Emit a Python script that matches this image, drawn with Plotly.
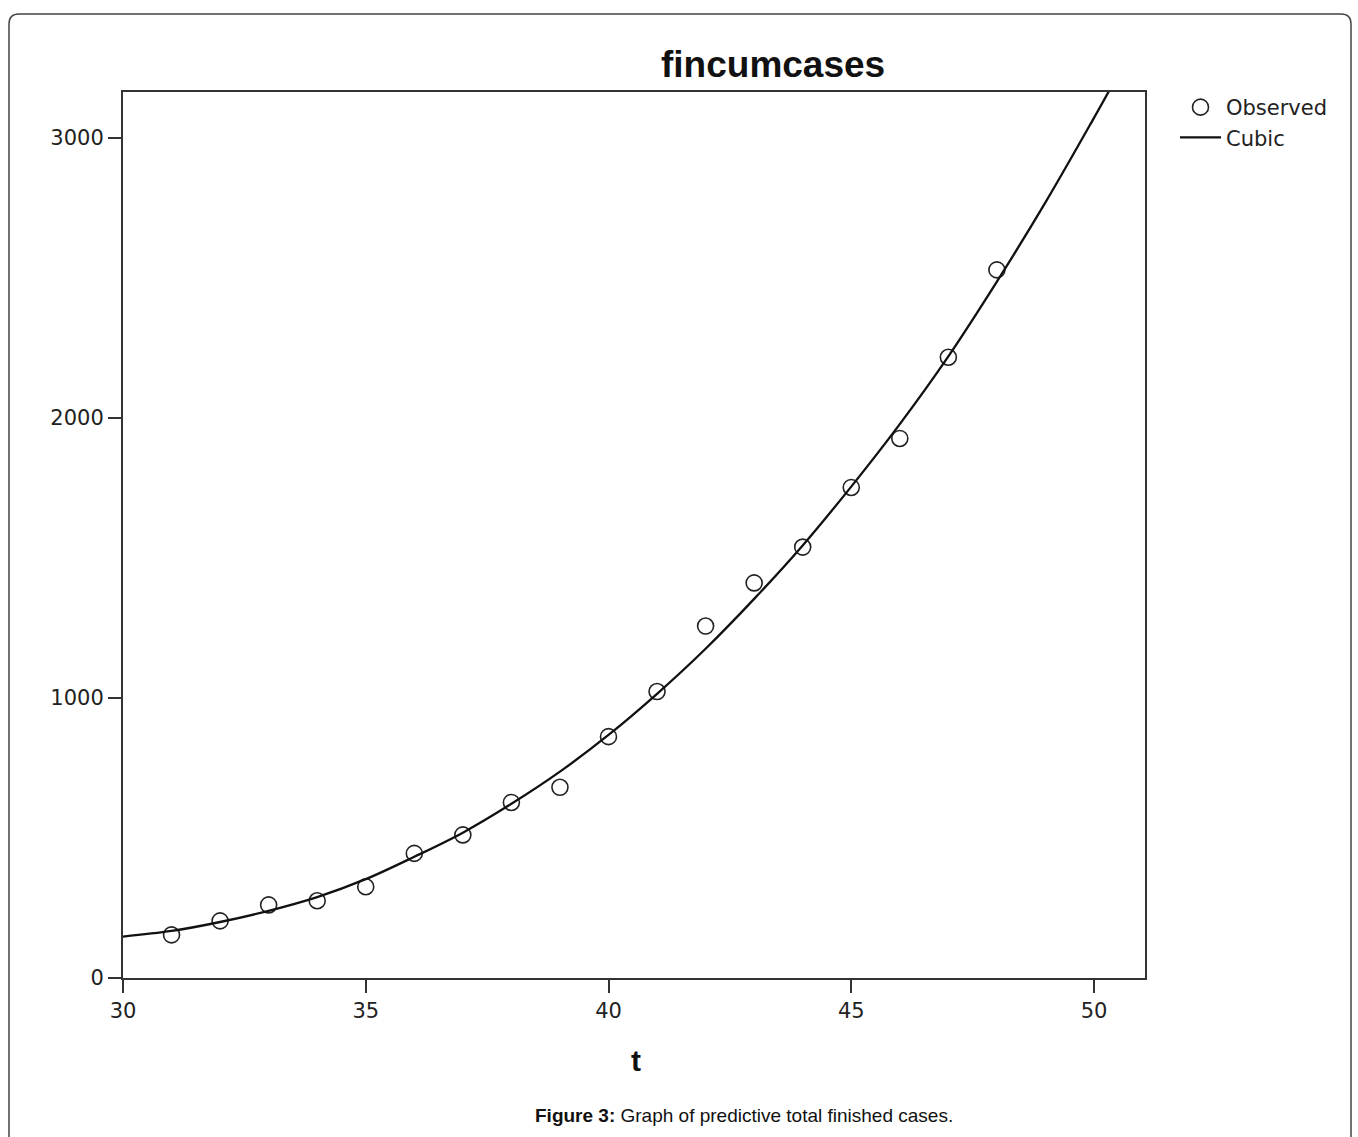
import plotly.graph_objects as go

# Observed data
t_obs = [31, 32, 33, 34, 35, 36, 37, 38, 39, 40, 41, 42, 43, 44, 45, 46, 47, 48]
cases_obs = [154, 204, 261, 276, 326, 445, 511, 627, 681, 862, 1023, 1257, 1411,
             1539, 1752, 1927, 2217, 2529]

# Cubic fit curve
t_fit = [30, 31, 32, 33, 34, 35, 36, 37, 38, 39, 40, 41, 42, 43, 44, 45, 46,
         47, 48, 49, 50, 50.31]
cases_fit = [148, 168, 200, 240, 289, 353, 433, 519, 622, 737, 868, 1015, 1176,
             1354, 1545, 1755, 1978, 2220, 2487, 2770, 3072, 3168]

x_ticks = [30, 35, 40, 45, 50]
y_ticks = [0, 1000, 2000, 3000]

W, H = 1358, 1137
L, R, T, B = 123, 1145, 92, 978


def px(x):
    return (x - L) / (R - L)


def py(y):
    return (B - y) / (B - T)


FONT = "Liberation Sans, Arial, sans-serif"
TICKFONT = "DejaVu Sans, Verdana, sans-serif"

fig = go.Figure()
fig.add_trace(go.Scatter(
    x=t_obs, y=cases_obs, mode="markers", name="Observed",
    marker=dict(symbol="circle-open", size=16, color="#222222",
                line=dict(width=1.6, color="#222222")),
    cliponaxis=False,
))
fig.add_trace(go.Scatter(
    x=t_fit, y=cases_fit, mode="lines", name="Cubic",
    line=dict(color="#111111", width=2.3, shape="spline"),
))

axis_common = dict(
    showgrid=False, zeroline=False, showline=True, linecolor="#333333",
    linewidth=2, mirror=True, ticks="outside", ticklen=13, tickwidth=2,
    tickcolor="#333333", tickfont=dict(family=TICKFONT, size=21, color="#222222"),
)

fig.update_xaxes(range=[30, 30 + (R - L) / 48.55], tickvals=x_ticks, **axis_common)
fig.update_yaxes(range=[0, (B - T) / 0.28], tickvals=y_ticks, **axis_common)

# rounded outer frame path in paper coordinates
fl, ft, fr, fb, rad = 9, 14, 1351, 1160, 10
path = (f"M {px(fl)},{py(fb)} L {px(fl)},{py(ft + rad)} "
        f"Q {px(fl)},{py(ft)} {px(fl + rad)},{py(ft)} "
        f"L {px(fr - rad)},{py(ft)} Q {px(fr)},{py(ft)} {px(fr)},{py(ft + rad)} "
        f"L {px(fr)},{py(fb)}")

fig.update_layout(
    width=W, height=H,
    margin=dict(l=L, r=W - R, t=T, b=H - B),
    paper_bgcolor="white", plot_bgcolor="white",
    showlegend=True,
    legend=dict(x=px(1175), y=py(87), xanchor="left", yanchor="top",
                font=dict(family=TICKFONT, size=21, color="#222222"),
                bgcolor="rgba(0,0,0,0)", tracegroupgap=0, itemwidth=41),
    shapes=[dict(type="path", xref="paper", yref="paper", path=path,
                 line=dict(color="#444444", width=1.5))],
    annotations=[
        dict(text="<b>fincumcases</b>", x=px(773), y=py(65), xref="paper",
             yref="paper", showarrow=False, xanchor="center", yanchor="middle",
             font=dict(family=FONT, size=37, color="#111111")),
        dict(text="<b>t</b>", x=px(636), y=py(1060), xref="paper", yref="paper",
             showarrow=False, xanchor="center", yanchor="middle",
             font=dict(family=FONT, size=30, color="#111111")),
        dict(text="<b>Figure 3:</b> Graph of predictive total finished cases.",
             x=px(744), y=py(1115), xref="paper", yref="paper", showarrow=False,
             xanchor="center", yanchor="middle",
             font=dict(family=FONT, size=19, color="#111111")),
    ],
)

fig.write_html("out.html")
